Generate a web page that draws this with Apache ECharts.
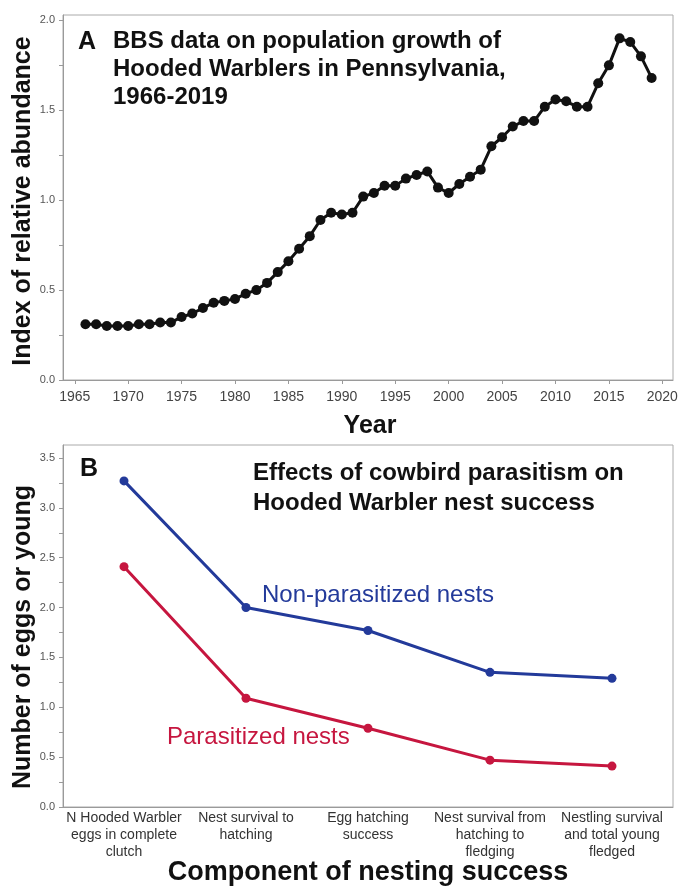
<!DOCTYPE html>
<html>
<head>
<meta charset="utf-8">
<script src="https://cdn.jsdelivr.net/npm/echarts@6/dist/echarts.min.js"></script>
<style>
  html, body { margin: 0; padding: 0; background: #fff; }
  #chart { width: 678px; height: 888px; }
</style>
</head>
<body>
<div id="chart"></div>
<script>
// panel A: BBS index by year
const years = [1966, 1967, 1968, 1969, 1970, 1971, 1972, 1973, 1974, 1975,
  1976, 1977, 1978, 1979, 1980, 1981, 1982, 1983, 1984, 1985,
  1986, 1987, 1988, 1989, 1990, 1991, 1992, 1993, 1994, 1995,
  1996, 1997, 1998, 1999, 2000, 2001, 2002, 2003, 2004, 2005,
  2006, 2007, 2008, 2009, 2010, 2011, 2012, 2013, 2014, 2015,
  2016, 2017, 2018, 2019];
const abundance = [0.31, 0.31, 0.30, 0.30, 0.30, 0.31, 0.31, 0.32, 0.32, 0.35,
  0.37, 0.40, 0.43, 0.44, 0.45, 0.48, 0.50, 0.54, 0.60, 0.66,
  0.73, 0.80, 0.89, 0.93, 0.92, 0.93, 1.02, 1.04, 1.08, 1.08,
  1.12, 1.14, 1.16, 1.07, 1.04, 1.09, 1.13, 1.17, 1.30, 1.35,
  1.41, 1.44, 1.44, 1.52, 1.56, 1.55, 1.52, 1.52, 1.65, 1.75,
  1.90, 1.88, 1.80, 1.68];
const yearTicks = [1965, 1970, 1975, 1980, 1985, 1990, 1995, 2000, 2005, 2010, 2015, 2020];
const abundanceLabels = [0, 0.5, 1.0, 1.5, 2.0];
const abundanceTicks = [0, 0.25, 0.5, 0.75, 1.0, 1.25, 1.5, 1.75, 2.0];

// panel B: nest success components
const components = [
  'N Hooded Warbler\neggs in complete\nclutch',
  'Nest survival to\nhatching',
  'Egg hatching\nsuccess',
  'Nest survival from\nhatching to\nfledging',
  'Nestling survival\nand total young\nfledged'
];
const nonParasitized = [3.27, 2.00, 1.77, 1.35, 1.29];
const parasitized = [2.41, 1.09, 0.79, 0.47, 0.41];
const countLabels = [0, 0.5, 1.0, 1.5, 2.0, 2.5, 3.0, 3.5];
const countTicks = [0, 0.25, 0.5, 0.75, 1.0, 1.25, 1.5, 1.75, 2.0, 2.25, 2.5, 2.75, 3.0, 3.25, 3.5];

const BLUE = '#233a9a';
const RED = '#c6163f';
const FONT = '"Liberation Sans", Arial, sans-serif';

const chart = echarts.init(document.getElementById('chart'));

const axisLineStyle = { lineStyle: { color: '#9a9a9a', width: 1 } };
const tickStyle = { lineStyle: { color: '#9a9a9a' }, length: 4 };

const option = {
  animation: false,
  backgroundColor: '#fff',
  grid: [
    { left: 63, top: 15, width: 610, height: 365, show: true, borderColor: '#aaa', borderWidth: 1,
      outerBoundsMode: 'none', containLabel: false },
    { left: 63, top: 445, width: 610, height: 362, show: true, borderColor: '#aaa', borderWidth: 1,
      outerBoundsMode: 'none', containLabel: false }
  ],
  xAxis: [
    {
      gridIndex: 0,
      type: 'value',
      min: 1963.9,
      max: 2021,
      axisLine: axisLineStyle,
      axisTick: Object.assign({ customValues: yearTicks }, tickStyle),
      axisLabel: {
        customValues: yearTicks,
        formatter: v => String(v),
        color: '#444', fontSize: 14, fontFamily: FONT, margin: 10
      },
      splitLine: { show: false }
    },
    {
      gridIndex: 1,
      type: 'category',
      data: components,
      boundaryGap: true,
      axisLine: axisLineStyle,
      axisTick: { show: false },
      axisLabel: {
        interval: 0,
        color: '#333', fontSize: 14, lineHeight: 17, fontFamily: FONT, margin: 3
      },
      splitLine: { show: false }
    }
  ],
  yAxis: [
    {
      gridIndex: 0,
      type: 'value',
      min: 0,
      max: 2.03,
      axisLine: Object.assign({ show: true }, axisLineStyle),
      axisTick: Object.assign({ show: true, customValues: abundanceTicks }, tickStyle),
      axisLabel: {
        customValues: abundanceLabels,
        formatter: v => v.toFixed(1),
        color: '#555', fontSize: 11, fontFamily: FONT, margin: 8
      },
      splitLine: { show: false }
    },
    {
      gridIndex: 1,
      type: 'value',
      min: 0,
      max: 3.63,
      axisLine: Object.assign({ show: true }, axisLineStyle),
      axisTick: Object.assign({ show: true, customValues: countTicks }, tickStyle),
      axisLabel: {
        customValues: countLabels,
        formatter: v => v.toFixed(1),
        color: '#555', fontSize: 11, fontFamily: FONT, margin: 8
      },
      splitLine: { show: false }
    }
  ],
  series: [
    {
      name: 'BBS index',
      type: 'line',
      xAxisIndex: 0,
      yAxisIndex: 0,
      data: years.map((y, i) => [y, abundance[i]]),
      symbol: 'circle',
      symbolSize: 10,
      lineStyle: { color: '#111', width: 3 },
      itemStyle: { color: '#111' }
    },
    {
      name: 'Non-parasitized nests',
      type: 'line',
      xAxisIndex: 1,
      yAxisIndex: 1,
      data: nonParasitized,
      symbol: 'circle',
      symbolSize: 9,
      lineStyle: { color: BLUE, width: 3 },
      itemStyle: { color: BLUE }
    },
    {
      name: 'Parasitized nests',
      type: 'line',
      xAxisIndex: 1,
      yAxisIndex: 1,
      data: parasitized,
      symbol: 'circle',
      symbolSize: 9,
      lineStyle: { color: RED, width: 3 },
      itemStyle: { color: RED }
    }
  ],
  graphic: [
    // panel A annotations
    { type: 'text', left: 78, top: 30, style: { text: 'A', font: 'bold 25px ' + FONT, fill: '#111' } },
    { type: 'text', left: 113, top: 27, style: {
        text: 'BBS data on population growth of\nHooded Warblers in Pennsylvania,\n1966-2019',
        font: 'bold 24px ' + FONT, lineHeight: 28, fill: '#111' } },
    { type: 'text', x: 23, y: 201, rotation: Math.PI / 2, style: {
        text: 'Index of relative abundance', font: 'bold 25px ' + FONT, fill: '#111',
        textAlign: 'center', textVerticalAlign: 'middle' } },
    { type: 'text', x: 370, y: 426, style: {
        text: 'Year', font: 'bold 25px ' + FONT, fill: '#111',
        textAlign: 'center', textVerticalAlign: 'middle' } },
    // panel B annotations
    { type: 'text', left: 80, top: 457, style: { text: 'B', font: 'bold 25px ' + FONT, fill: '#111' } },
    { type: 'text', left: 253, top: 458, style: {
        text: 'Effects of cowbird parasitism on\nHooded Warbler nest success',
        font: 'bold 24px ' + FONT, lineHeight: 30, fill: '#111' } },
    { type: 'text', x: 262, y: 595, style: {
        text: 'Non-parasitized nests', font: '24px ' + FONT, fill: BLUE,
        textAlign: 'left', textVerticalAlign: 'middle' } },
    { type: 'text', x: 167, y: 737, style: {
        text: 'Parasitized nests', font: '24px ' + FONT, fill: RED,
        textAlign: 'left', textVerticalAlign: 'middle' } },
    { type: 'text', x: 23, y: 637, rotation: Math.PI / 2, style: {
        text: 'Number of eggs or young', font: 'bold 25px ' + FONT, fill: '#111',
        textAlign: 'center', textVerticalAlign: 'middle' } },
    { type: 'text', x: 368, y: 873, style: {
        text: 'Component of nesting success', font: 'bold 27px ' + FONT, fill: '#111',
        textAlign: 'center', textVerticalAlign: 'middle' } }
  ]
};

chart.setOption(option);
</script>
</body>
</html>
